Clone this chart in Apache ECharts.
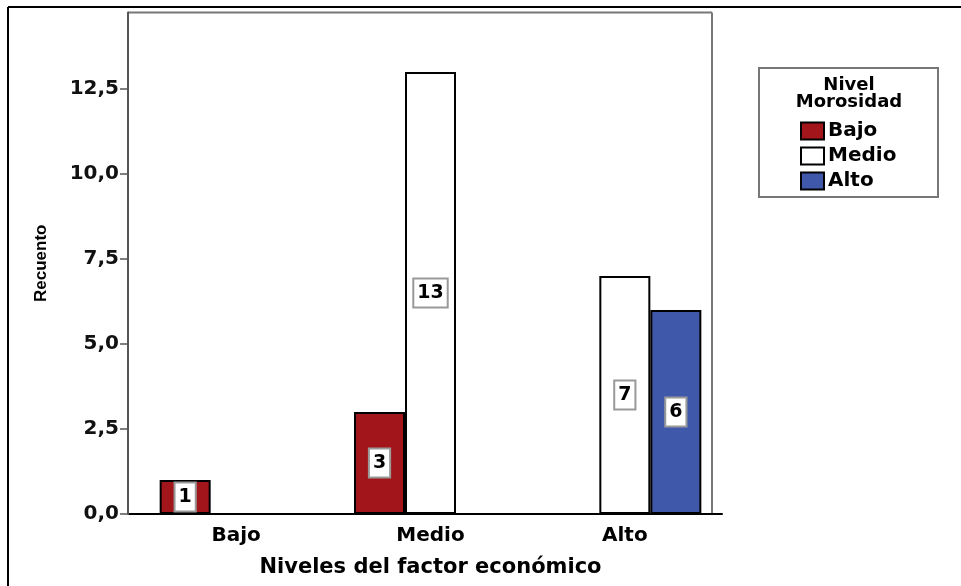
<!DOCTYPE html>
<html>
<head>
<meta charset="utf-8">
<script src="https://cdn.jsdelivr.net/npm/echarts@6/dist/echarts.min.js"></script>
<style>
  html, body { margin: 0; padding: 0; background: #fff; }
  #chart { width: 961px; height: 586px; }
</style>
</head>
<body>
<div id="chart"></div>
<script>
// Recuento por nivel del factor económico y nivel de morosidad
const categories = ['Bajo', 'Medio', 'Alto'];
const seriesNames = ['Bajo', 'Medio', 'Alto'];
const valuesBajo = [1, 3, null];
const valuesMedio = [null, 13, 7];
const valuesAlto = [null, null, 6];
const yTicks = [0, 2.5, 5, 7.5, 10, 12.5];

const FONT = '"DejaVu Sans", "Liberation Sans", Arial, sans-serif';
const NARROW = '"Liberation Sans Narrow", "Liberation Sans", Arial, sans-serif';
const colors = ['#A2161B', '#FFFFFF', '#3F58AA'];

const labelStyle = {
  show: true,
  position: 'inside',
  color: '#000',
  fontFamily: FONT,
  fontWeight: 'bold',
  fontSize: 19,
  lineHeight: 20,
  backgroundColor: '#fff',
  borderColor: '#999',
  borderWidth: 2,
  padding: [4, 3, 3, 3]
};

function makeSeries(name, data, color) {
  return {
    name: name,
    type: 'bar',
    data: data,
    barWidth: 51,
    barGap: '0%',
    itemStyle: { color: color, borderColor: '#000', borderWidth: 2 },
    label: labelStyle,
    emphasis: { disabled: true }
  };
}

const chart = echarts.init(document.getElementById('chart'), null, { renderer: 'canvas' });

const option = {
  animation: false,
  backgroundColor: '#fff',
  grid: { left: 139, right: 239, top: 12.5, bottom: 72 },
  xAxis: {
    type: 'category',
    data: categories,
    axisLine: { lineStyle: { color: '#000', width: 2 } },
    axisTick: { alignWithLabel: true, length: 7, lineStyle: { color: '#000', width: 1.5 } },
    axisLabel: { color: '#000', fontFamily: FONT, fontWeight: 'bold', fontSize: 20, margin: 12 },
    name: 'Niveles del factor económico',
    nameLocation: 'middle',
    nameGap: 43,
    nameTextStyle: { color: '#000', fontFamily: FONT, fontWeight: 'bold', fontSize: 21 }
  },
  yAxis: {
    type: 'value',
    min: 0,
    max: 14.75,
    interval: 2.5,
    offset: 11,
    splitLine: { show: false },
    axisLine: { show: true, lineStyle: { color: '#555', width: 2 } },
    axisTick: { show: true, length: 8, customValues: yTicks, lineStyle: { color: '#555', width: 1.5 } },
    axisLabel: {
      customValues: yTicks,
      color: '#111', fontFamily: FONT, fontWeight: 'bold', fontSize: 20, margin: 9,
      formatter: v => v.toFixed(1).replace('.', ',')
    },
    name: 'Recuento',
    nameLocation: 'middle',
    nameGap: 78,
    nameRotate: 90,
    nameTextStyle: { color: '#000', fontFamily: NARROW, fontWeight: 'bold', fontSize: 17 }
  },
  legend: {
    data: seriesNames,
    orient: 'vertical',
    left: 800,
    top: 121,
    padding: 0,
    icon: 'rect',
    itemWidth: 23,
    itemHeight: 17,
    itemGap: 5,
    selectedMode: false,
    itemStyle: { borderColor: '#000', borderWidth: 2 },
    textStyle: { color: '#000', fontFamily: FONT, fontWeight: 'bold', fontSize: 20, padding: [0, 0, 0, -1] }
  },
  series: [
    makeSeries(seriesNames[0], valuesBajo, colors[0]),
    makeSeries(seriesNames[1], valuesMedio, colors[1]),
    makeSeries(seriesNames[2], valuesAlto, colors[2])
  ]
};

chart.setOption(option);

// Frame pieces: outer page frame, plot box and legend box
const y0 = chart.convertToPixel({ yAxisIndex: 0 }, 0);
const yTop = chart.convertToPixel({ yAxisIndex: 0 }, 14.75);
const axisX = 128;
chart.setOption({
  graphic: [
    { type: 'line', shape: { x1: 8, y1: 7, x2: 961, y2: 7 }, style: { stroke: '#000', lineWidth: 2 } },
    { type: 'line', shape: { x1: 8, y1: 7, x2: 8, y2: 586 }, style: { stroke: '#000', lineWidth: 2 } },
    { type: 'line', shape: { x1: axisX, y1: yTop, x2: 712, y2: yTop }, style: { stroke: '#777', lineWidth: 2 } },
    { type: 'line', shape: { x1: 712, y1: yTop, x2: 712, y2: y0 }, style: { stroke: '#777', lineWidth: 2 } },
    { type: 'line', shape: { x1: axisX, y1: y0, x2: 140, y2: y0 }, style: { stroke: '#000', lineWidth: 2 } },
    { type: 'rect', shape: { x: 759, y: 68, width: 179, height: 129 }, style: { fill: 'none', stroke: '#777', lineWidth: 2 } },
    {
      type: 'text', x: 849, y: 77,
      style: {
        text: 'Nivel\nMorosidad', align: 'center', verticalAlign: 'top',
        font: 'bold 18px ' + FONT, fill: '#000', lineHeight: 17
      }
    }
  ]
});
</script>
</body>
</html>
